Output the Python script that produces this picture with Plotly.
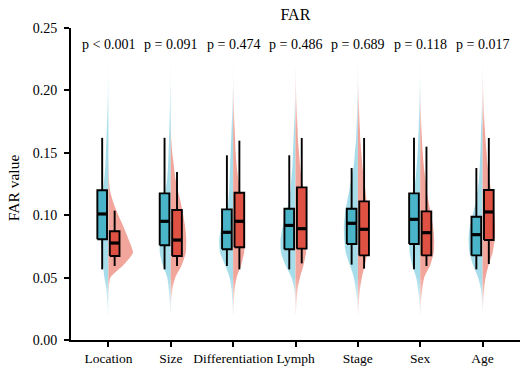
import plotly.graph_objects as go

categories = ["Location", "Size", "Differentiation", "Lymph", "Stage", "Sex", "Age"]
p_labels = ["p < 0.001", "p = 0.091", "p = 0.474", "p = 0.486", "p = 0.689", "p = 0.118", "p = 0.017"]

# Box statistics (group 1 = blue, group 2 = red)
blue_low = [0.0566, 0.0566, 0.0593, 0.0566, 0.0604, 0.0566, 0.0566]
blue_q1 = [0.0807, 0.0759, 0.0727, 0.0727, 0.0769, 0.0769, 0.0678]
blue_med = [0.1010, 0.0951, 0.0863, 0.0918, 0.0935, 0.0967, 0.0844]
blue_q3 = [0.1200, 0.1175, 0.1047, 0.1052, 0.1052, 0.1175, 0.0988]
blue_high = [0.1620, 0.1620, 0.1480, 0.1480, 0.1378, 0.1620, 0.1378]

red_low = [0.0593, 0.0593, 0.0566, 0.0614, 0.0572, 0.0593, 0.0609]
red_q1 = [0.0673, 0.0673, 0.0743, 0.0732, 0.0678, 0.0678, 0.0801]
red_med = [0.0777, 0.0801, 0.0951, 0.0892, 0.0887, 0.0860, 0.1026]
red_q3 = [0.0871, 0.1042, 0.1180, 0.1223, 0.1111, 0.1031, 0.1202]
red_high = [0.1036, 0.1346, 0.1597, 0.1619, 0.1619, 0.1549, 0.1619]

# Half-violin density profiles (relative widths) on a common value grid
density_grid = [0.02, 0.03, 0.04, 0.05, 0.06, 0.07, 0.08, 0.09, 0.10, 0.11, 0.12,
                0.13, 0.14, 0.15, 0.16, 0.17, 0.18, 0.19, 0.20, 0.21, 0.22]

blue_dens_location = [0.3, 1, 2, 4, 5.5, 6.5, 7.5, 8, 8, 7, 5.5, 4, 3, 2.5, 2, 1.5, 1.2, 0.8, 0.5, 0.3, 0.1]
blue_dens_size = [0.2, 1, 2, 3.5, 8, 11, 11, 10.5, 9, 7, 5, 3.5, 2.7, 2.2, 1.8, 1.4, 1.1, 0.8, 0.5, 0.3, 0.2]
blue_dens_diff = [0.2, 0.8, 1.5, 3.5, 8, 13, 14, 12, 8, 5, 4, 3.5, 3, 2.5, 2, 1.5, 1, 0.6, 0.3, 0.1, 0]
blue_dens_lymph = [0, 0.2, 1, 4, 10, 14.5, 15, 13, 10, 7, 5, 4, 3, 2.5, 2, 1.5, 1, 0.6, 0.3, 0.1, 0]
blue_dens_stage = [0.1, 0.5, 2, 4, 8, 12, 13.5, 14, 13, 11, 8.5, 6.5, 4, 3, 1.8, 1.3, 0.9, 0.6, 0.4, 0.2, 0.1]
blue_dens_sex = [0.2, 0.8, 2, 4, 8, 10.5, 11, 11, 10, 8, 6, 4.5, 3.5, 2.5, 2, 1.5, 1.2, 0.9, 0.6, 0.3, 0.1]
blue_dens_age = [0.1, 0.5, 1.5, 4.5, 9.5, 13, 14, 13, 10, 7, 5, 3.5, 2.8, 2.2, 1.8, 1.4, 1, 0.6, 0.3, 0.1, 0]

red_dens_location = [0, 0, 0.3, 2, 15, 24.5, 20.5, 15.5, 10, 5, 1.5, 0.5, 0.2, 0, 0, 0, 0, 0, 0, 0, 0]
red_dens_size = [0, 0.3, 1.5, 4.5, 11, 15, 15.5, 14.5, 12.5, 10, 7, 4.5, 3, 1.5, 0.5, 0, 0, 0, 0, 0, 0]
red_dens_diff = [0.2, 0.6, 1.5, 3.5, 8, 11, 11.5, 11, 10, 8.5, 7, 5, 3.5, 2.5, 2, 1.5, 1, 0.7, 0.4, 0.2, 0.1]
red_dens_lymph = [0.3, 1, 2, 4.5, 8, 10.5, 11, 11, 10.5, 9.5, 8, 6, 4.5, 3.5, 2.5, 2, 1.5, 1, 0.6, 0.3, 0.1]
red_dens_stage = [0.3, 1, 2, 4, 7, 9.5, 10.5, 10.5, 10, 9, 7.5, 6, 4.5, 3.5, 2.5, 2, 1.5, 1, 0.5, 0.2, 0.1]
red_dens_sex = [0.2, 0.7, 2, 4, 10, 13.5, 14, 13, 11, 8.5, 6.5, 5, 3.5, 2.5, 1.8, 1.2, 0.7, 0.4, 0.2, 0, 0]
red_dens_age = [0.1, 0.5, 1.5, 3, 6, 10, 12, 12.5, 12, 10.5, 8.5, 6.5, 5, 4, 3, 2.2, 1.5, 1, 0.6, 0.3, 0.1]

blue_densities = [blue_dens_location, blue_dens_size, blue_dens_diff, blue_dens_lymph,
                  blue_dens_stage, blue_dens_sex, blue_dens_age]
red_densities = [red_dens_location, red_dens_size, red_dens_diff, red_dens_lymph,
                 red_dens_stage, red_dens_sex, red_dens_age]

# Styles
BLUE = "#4AB4C9"
RED = "#DF5243"
BLUE_V = "rgb(166,221,234)"
RED_V = "rgb(242,165,154)"
DENS_SCALE = 1 / 62.4
BOX_OFFSET = 0.1
BOX_WIDTH = 0.155
FONT = "Liberation Serif, Times New Roman, serif"

fig = go.Figure()

# Half violins
for i, (bd, rd) in enumerate(zip(blue_densities, red_densities)):
    for dens, side, col in ((bd, -1, BLUE_V), (rd, 1, RED_V)):
        xs = [i + side * d * DENS_SCALE for d in dens] + [i] * len(dens)
        ys = list(density_grid) + list(reversed(density_grid))
        fig.add_trace(go.Scatter(
            x=xs, y=ys, mode="lines", fill="toself", fillcolor=col,
            line=dict(width=0, color=col, shape="spline", smoothing=0.6),
            hoverinfo="skip", showlegend=False))

# Boxes (drawn with scatter so they sit above the violins)
n = len(categories)
for off, col, lo, q1, med, q3, hi in (
        (-BOX_OFFSET, BLUE, blue_low, blue_q1, blue_med, blue_q3, blue_high),
        (BOX_OFFSET, RED, red_low, red_q1, red_med, red_q3, red_high)):
    xpos = [i + off for i in range(n)]
    wx, wy, bx, by, mx, my = [], [], [], [], [], []
    for x, a, b, m, c, d in zip(xpos, lo, q1, med, q3, hi):
        wx += [x, x, None, x, x, None]
        wy += [a, b, None, c, d, None]
        h = BOX_WIDTH / 2
        bx += [x - h, x + h, x + h, x - h, x - h, None]
        by += [b, b, c, c, b, None]
        mx += [x - h, x + h, None]
        my += [m, m, None]
    fig.add_trace(go.Scatter(x=wx, y=wy, mode="lines",
                             line=dict(color="black", width=1.9),
                             hoverinfo="skip", showlegend=False))
    fig.add_trace(go.Scatter(x=bx, y=by, mode="lines", fill="toself", fillcolor=col,
                             line=dict(color="black", width=1.9),
                             hoverinfo="skip", showlegend=False))
    fig.add_trace(go.Scatter(x=mx, y=my, mode="lines",
                             line=dict(color="black", width=3.2),
                             hoverinfo="skip", showlegend=False))

# Fade the violin tails (white overlay bands)
shapes = []
top0, top1, nt = 0.168, 0.226, 29
for k in range(nt):
    a = top0 + (top1 - top0) * k / nt
    b = top0 + (top1 - top0) * (k + 1) / nt
    op = min(1.0, ((k + 0.5) / nt) ** 0.9)
    shapes.append(dict(type="rect", xref="x", yref="y", x0=-0.5, x1=6.5, y0=a, y1=b,
                       fillcolor="white", opacity=op, line=dict(width=0), layer="above"))
bot0, bot1, nb = 0.05, 0.012, 19
for k in range(nb):
    a = bot0 + (bot1 - bot0) * k / nb
    b = bot0 + (bot1 - bot0) * (k + 1) / nb
    op = min(1.0, ((k + 0.5) / nb) ** 0.9)
    shapes.append(dict(type="rect", xref="x", yref="y", x0=-0.5, x1=6.5, y0=b, y1=a,
                       fillcolor="white", opacity=op, line=dict(width=0), layer="above"))

annotations = [dict(x=i, y=0.2365, xref="x", yref="y", text=p, showarrow=False,
                    font=dict(family=FONT, size=14, color="black"))
               for i, p in enumerate(p_labels)]
# y-axis title
annotations.append(dict(x=-0.129, y=0.487, xref="paper", yref="paper", text="FAR value",
                        textangle=-90, showarrow=False, xanchor="center", yanchor="middle",
                        font=dict(family=FONT, size=15.5, color="black")))

fig.update_layout(
    width=520, height=377,
    margin=dict(l=71, r=0, t=28, b=37),
    paper_bgcolor="white", plot_bgcolor="white",
    font=dict(family=FONT, size=14, color="black"),
    title=dict(text="FAR", x=0.568, xanchor="center", y=0.963, yanchor="middle",
               font=dict(family=FONT, size=16, color="black")),
    shapes=shapes, annotations=annotations, showlegend=False,
)
fig.update_xaxes(range=[-0.6, 6.6], tickvals=list(range(n)), ticktext=categories,
                 tickangle=0, automargin=False,
                 showgrid=False, zeroline=False, showline=True, linecolor="black",
                 linewidth=1.8, ticks="outside", ticklen=5, tickwidth=1.8,
                 tickcolor="black", tickfont=dict(family=FONT, size=13.5))
fig.update_yaxes(range=[0, 0.25], tickvals=[0, 0.05, 0.10, 0.15, 0.20, 0.25],
                 tickformat=".2f", automargin=False, showgrid=False, zeroline=False,
                 showline=True, linecolor="black", linewidth=1.8, ticks="outside",
                 ticklen=5, tickwidth=1.8, tickcolor="black", ticklabelstandoff=4,
                 tickfont=dict(family=FONT, size=14))

fig.write_html("out.html", config={"displayModeBar": False},
               post_script="document.body.style.margin='0';document.body.style.padding='0';")
